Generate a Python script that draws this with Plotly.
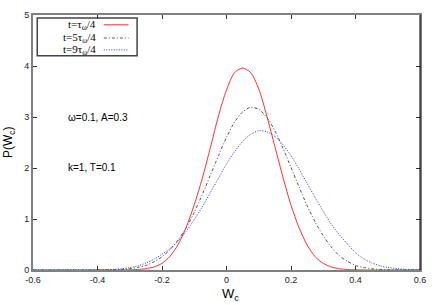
import plotly.graph_objects as go

# x grid (W_c)
w_c = [-0.6, -0.575, -0.55, -0.525, -0.5, -0.475, -0.45, -0.425, -0.4, -0.375,
       -0.35, -0.325, -0.3, -0.275, -0.25, -0.225, -0.2, -0.175, -0.15, -0.125,
       -0.1, -0.075, -0.05, -0.025, 0.0, 0.025, 0.05, 0.075, 0.1, 0.125,
       0.15, 0.175, 0.2, 0.225, 0.25, 0.275, 0.3, 0.325, 0.35, 0.375,
       0.4, 0.425, 0.45, 0.475, 0.5, 0.525, 0.55, 0.575, 0.6]

p_t1 = [0, 0, 0, 0, 0, 0, 0, 0, 0, 0,
        0, 0.001, 0.004, 0.01, 0.025, 0.06, 0.13, 0.27, 0.50, 0.84,
        1.28, 1.80, 2.40, 3.02, 3.53, 3.87, 3.96, 3.87, 3.55, 3.02,
        2.42, 1.82, 1.27, 0.83, 0.49, 0.26, 0.13, 0.06, 0.025, 0.01,
        0.004, 0.001, 0, 0, 0, 0, 0, 0, 0]

p_t5 = [0, 0, 0, 0, 0, 0, 0, 0, 0.001, 0.002,
        0.005, 0.012, 0.025, 0.05, 0.09, 0.16, 0.26, 0.40, 0.59, 0.83,
        1.13, 1.48, 1.86, 2.24, 2.60, 2.90, 3.10, 3.19, 3.15, 2.99,
        2.73, 2.39, 2.01, 1.63, 1.26, 0.94, 0.67, 0.45, 0.28, 0.17,
        0.09, 0.05, 0.025, 0.012, 0.005, 0.002, 0.001, 0, 0]

p_t9 = [0, 0, 0, 0, 0, 0, 0, 0.001, 0.003, 0.006,
        0.012, 0.025, 0.045, 0.08, 0.135, 0.21, 0.31, 0.42, 0.57, 0.76,
        0.99, 1.24, 1.52, 1.80, 2.08, 2.32, 2.52, 2.66, 2.73, 2.71,
        2.62, 2.46, 2.24, 1.98, 1.70, 1.42, 1.15, 0.90, 0.69, 0.51,
        0.34, 0.22, 0.14, 0.085, 0.05, 0.03, 0.015, 0.008, 0.004]

series_names = ["t=τ<sub>ω</sub>/4", "t=5τ<sub>ω</sub>/4", "t=9τ<sub>ω</sub>/4"]
series_values = [p_t1, p_t5, p_t9]
series_colors = ["#ff3030", "#555555", "#3030ff"]
series_dash = ["solid", "3px,2px,1px,2px", "1px,1.5px"]

x_ticks = [-0.6, -0.4, -0.2, 0, 0.2, 0.4, 0.6]
x_ticktext = ["-0.6", "-0.4", "-0.2", "0", "0.2", "0.4", "0.6"]
y_ticks = [0, 1, 2, 3, 4, 5]
y_ticktext = ["0", "1", "2", "3", "4", "5"]

fig = go.Figure()
for name, vals, col, dash in zip(series_names, series_values, series_colors, series_dash):
    fig.add_trace(go.Scatter(x=w_c, y=vals, mode="lines", name=name,
                             line=dict(color=col, width=1, dash=dash, shape="spline", smoothing=0.8),
                             showlegend=False))

axis_common = dict(showgrid=False, zeroline=False, showline=True, linecolor="#808080",
                   linewidth=2, mirror="ticks", ticks="inside", ticklen=4, tickwidth=1,
                   tickcolor="#333333", tickfont=dict(family="Liberation Sans, Arial", size=9, color="#222"))

fig.update_layout(
    width=436, height=305,
    margin=dict(l=33, r=15, t=10, b=35),
    plot_bgcolor="white", paper_bgcolor="white",
    xaxis=dict(range=[-0.6, 0.6], tickvals=x_ticks, ticktext=x_ticktext, **axis_common),
    yaxis=dict(range=[0, 5], tickvals=y_ticks, ticktext=y_ticktext, **axis_common),
)

# right frame edge is black and thin
fig.add_shape(type="line", xref="paper", yref="paper", x0=1, x1=1, y0=0, y1=1,
              line=dict(color="black", width=1))

# axis titles
fig.add_annotation(text="W<sub>c</sub>", xref="paper", yref="paper", x=0.51, y=-0.098,
                   xanchor="center", yanchor="middle", showarrow=False,
                   font=dict(family="Liberation Sans, Arial", size=13, color="black"))
fig.add_annotation(text="P(W<sub>c</sub>)", xref="paper", yref="paper", x=-0.063, y=0.5,
                   xanchor="center", yanchor="middle", textangle=-90, showarrow=False,
                   font=dict(family="Liberation Sans, Arial", size=12, color="black"))

# text annotations
fig.add_annotation(text="ω=0.1, A=0.3", xref="paper", yref="paper", x=0.085, y=0.597,
                   xanchor="left", yanchor="middle", showarrow=False,
                   font=dict(family="Liberation Sans, Arial", size=10, color="black"))
fig.add_annotation(text="k=1, T=0.1", xref="paper", yref="paper", x=0.085, y=0.401,
                   xanchor="left", yanchor="middle", showarrow=False,
                   font=dict(family="Liberation Sans, Arial", size=10, color="black"))

# manual legend (gnuplot style: text right, sample on right)
fig.add_shape(type="rect", xref="paper", yref="paper", x0=0.011, x1=0.269, y0=0.84, y1=0.988,
              line=dict(color="#444444", width=1.5), fillcolor="white", layer="below")
legend_rows = [0.9616, 0.9098, 0.863]
for name, col, dash, yy in zip(series_names, series_colors, series_dash, legend_rows):
    fig.add_annotation(text=name, xref="paper", yref="paper", x=0.1675, y=yy,
                       xanchor="right", yanchor="middle", showarrow=False,
                       font=dict(family="Liberation Serif, DejaVu Serif, serif", size=11, color="black"))
    fig.add_shape(type="line", xref="paper", yref="paper", x0=0.183, x1=0.247, y0=yy, y1=yy,
                  line=dict(color=col, width=1, dash=dash))

fig.write_html("out.html", config={"displayModeBar": False})

# remove default page margins so the chart sits at the window's top-left corner
with open("out.html", "r", encoding="utf-8") as f:
    html = f.read()
html = html.replace("<head>", "<head><style>html,body{margin:0;padding:0;overflow:hidden;}</style>", 1)
with open("out.html", "w", encoding="utf-8") as f:
    f.write(html)
